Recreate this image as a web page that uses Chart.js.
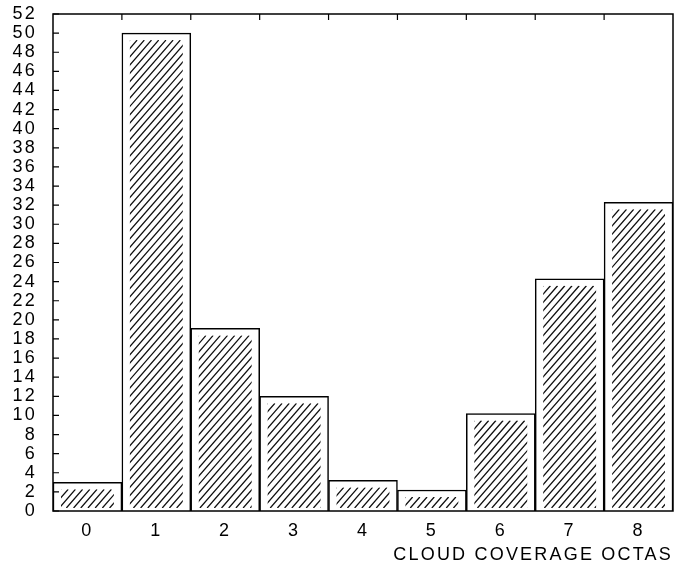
<!DOCTYPE html>
<html>
<head>
<meta charset="utf-8">
<script src="https://cdn.jsdelivr.net/npm/chart.js@4"></script>
<style>
  html, body { margin: 0; padding: 0; background: #fff; }
  #wrap { width: 676px; height: 566px; }
</style>
</head>
<body>
<div id="wrap"><canvas id="grafico"></canvas></div>
<script>
// datos
const octas = ['0', '1', '2', '3', '4', '5', '6', '7', '8'];
const frecuencias = [3.0, 50.0, 19.1, 12.0, 3.2, 2.2, 10.2, 24.3, 32.3];
const yMax = 52;
const yPaso = 2;
const tituloX = 'CLOUD COVERAGE OCTAS';

// espaciado de letras como en el original
const letras = {
    id: 'letras',
    beforeInit(chart) { chart.ctx.letterSpacing = '2.2px'; },
    beforeDraw(chart) { chart.ctx.letterSpacing = '2.2px'; }
};

// rayado diagonal dentro de cada barra
const rayado = {
    id: 'rayado',
    afterDatasetsDraw(chart) {
        const ctx = chart.ctx;
        const meta = chart.getDatasetMeta(0);
        meta.data.forEach(bar => {
            const p = bar.getProps(['x', 'y', 'base', 'width'], true);
            const izq = p.x - p.width / 2 + 8;
            const der = p.x + p.width / 2 - 8;
            const arriba = p.y + 7;
            const abajo = p.base - 3;
            if (abajo - arriba < 2) return;
            ctx.save();
            ctx.beginPath();
            ctx.rect(izq, arriba, der - izq, abajo - arriba);
            ctx.clip();
            ctx.strokeStyle = '#111';
            ctx.lineWidth = 1.3;
            const pend = 1.15;
            const alto = abajo - arriba;
            ctx.beginPath();
            for (let x0 = izq - alto / pend; x0 < der + 2; x0 += 7.2) {
                ctx.moveTo(x0, abajo);
                ctx.lineTo(x0 + alto / pend, arriba);
            }
            ctx.stroke();
            ctx.restore();
        });
    }
};

// marco y marcas hacia dentro
const marco = {
    id: 'marco',
    afterDraw(chart) {
        const ctx = chart.ctx;
        const a = chart.chartArea;
        const ys = chart.scales.y;
        const xs = chart.scales.x;
        ctx.save();
        ctx.strokeStyle = '#000';
        ctx.lineWidth = 1.5;
        ctx.strokeRect(a.left, a.top, a.right - a.left, a.bottom - a.top);
        ctx.lineWidth = 1.2;
        ctx.beginPath();
        ys.ticks.forEach(t => {
            const py = ys.getPixelForValue(t.value);
            ctx.moveTo(a.left, py);
            ctx.lineTo(a.left + 6, py);
        });
        for (let i = 0; i < octas.length - 1; i++) {
            const px = (xs.getPixelForValue(i) + xs.getPixelForValue(i + 1)) / 2;
            ctx.moveTo(px, a.top);
            ctx.lineTo(px, a.top + 6);
        }
        ctx.stroke();
        ctx.restore();
    }
};

const fuente = { family: 'Liberation Sans', size: 18 };

new Chart(document.getElementById('grafico'), {
    type: 'bar',
    data: {
        labels: octas,
        datasets: [{
            data: frecuencias,
            backgroundColor: '#fff',
            borderColor: '#000',
            borderWidth: 1.5,
            categoryPercentage: 1,
            barPercentage: 1
        }]
    },
    options: {
        responsive: true,
        maintainAspectRatio: false,
        animation: false,
        layout: { padding: { top: 14, right: 3, left: 0, bottom: 0 } },
        plugins: {
            legend: { display: false },
            tooltip: { enabled: false }
        },
        scales: {
            x: {
                grid: { display: false, drawTicks: false },
                border: { display: false },
                ticks: { color: '#000', font: fuente, padding: 9 },
                title: {
                    display: true,
                    text: tituloX,
                    align: 'end',
                    color: '#000',
                    font: fuente,
                    padding: { top: 1, bottom: 0 }
                },
                afterFit(s) { s.height = 55; s.paddingLeft = 0; s.paddingRight = 0; }
            },
            y: {
                min: 0,
                max: yMax,
                grid: { display: false, drawTicks: false },
                border: { display: false },
                ticks: { stepSize: yPaso, color: '#000', font: fuente, padding: 16, autoSkip: false },
                afterFit(s) { s.width = 53; s.paddingTop = 0; s.paddingBottom = 0; }
            }
        }
    },
    plugins: [letras, rayado, marco]
});
</script>
</body>
</html>
